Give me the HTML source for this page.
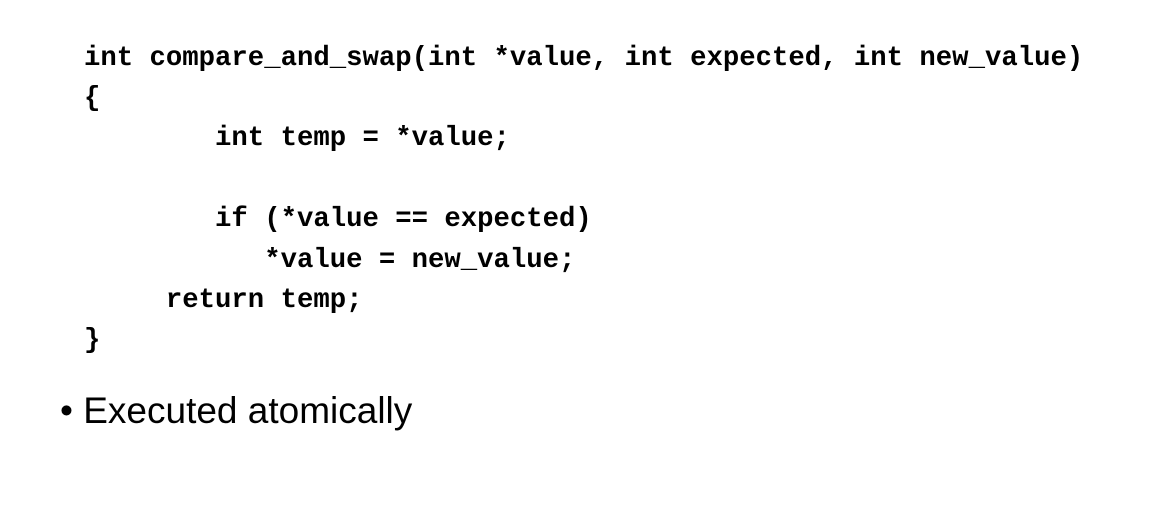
<!DOCTYPE html>
<html><head><meta charset="utf-8"><style>
html,body{margin:0;padding:0;background:#fff;width:1172px;height:522px;overflow:hidden;position:relative}
pre{position:absolute;left:84px;top:38.5px;margin:0;font-family:"Liberation Mono",monospace;font-weight:bold;font-size:27.3px;line-height:40.4px;color:#000}
.b{position:absolute;left:60px;top:386px;font-family:"Liberation Sans",sans-serif;font-size:37px;line-height:50px;color:#000}
</style></head><body>
<pre>int compare_and_swap(int *value, int expected, int new_value)
{
        int temp = *value;

        if (*value == expected)
           *value = new_value;
     return temp;
}</pre>
<div class="b">• Executed atomically</div>
</body></html>
